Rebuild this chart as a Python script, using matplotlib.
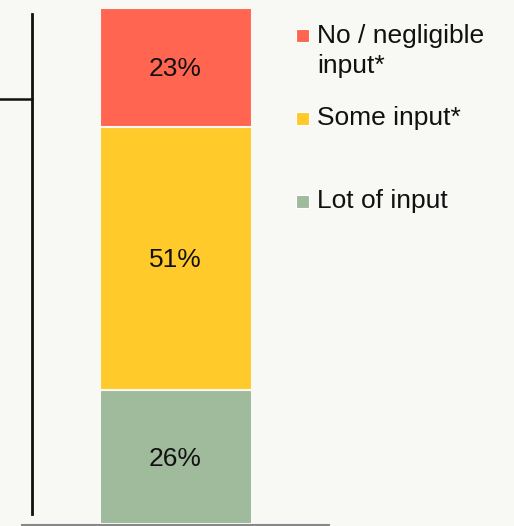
import matplotlib.pyplot as plt
from matplotlib.lines import Line2D
from matplotlib.patches import Rectangle

plt.rcParams['font.family'] = ['Liberation Sans', 'DejaVu Sans']

# stacked share of input, bottom to top
categories = ['Lot of input', 'Some input*', 'No / negligible\ninput*']
shares = [26, 51, 23]
colors = ['#a0ba9c', '#ffca2a', '#ff6550']
bg = '#f8f8f4'

W, H = 514, 526
fig = plt.figure(figsize=(W / 100, H / 100), dpi=100, facecolor=bg)

# axes: y=0 at pixel row 524, y=100 at pixel row 8
ax = fig.add_axes([0, 2 / H, 1, 516 / H])
ax.set_facecolor(bg)
ax.set_xlim(0, W)
ax.set_ylim(0, 100)
ax.axis('off')

bottom = 0
for share, col in zip(shares, colors):
    ax.bar(175.5, share, width=152, bottom=bottom, color=col,
           edgecolor=bg, linewidth=1.5)
    ax.text(175.5, bottom + share / 2 - 1.7, f'{share}%', ha='center', va='baseline',
            fontsize=19, color='#111111')
    bottom += share

# baseline
ax.plot([22, 329], [-0.2, -0.2], color='#888888', lw=1.5, clip_on=False)

# bracket from the left
def px(x, y):
    return x / W, 1 - y / H

fig.add_artist(Line2D(*zip(px(32, 14), px(32, 514)), color='#111111', lw=2))
fig.add_artist(Line2D(*zip(px(0, 99), px(32, 99)), color='#111111', lw=1.8))

# legend (top to bottom), first-line baseline in pixels
legend_items = [
    (categories[2], colors[2], 42),
    (categories[1], colors[1], 125),
    (categories[0], colors[0], 208),
]
line_gap = 31
for label, col, base in legend_items:
    x0, y0 = px(296, base)
    fig.add_artist(Rectangle((x0, y0), 13 / W, 13 / H, transform=fig.transFigure,
                             facecolor=col, edgecolor='white', lw=0.8))
    last_base = base + line_gap * label.count('\n')
    fig.text(317 / W, 1 - last_base / H, label, ha='left', va='baseline',
             fontsize=19, color='#111111', linespacing=1.33)

fig.savefig('out.png', dpi=100, facecolor=bg)
